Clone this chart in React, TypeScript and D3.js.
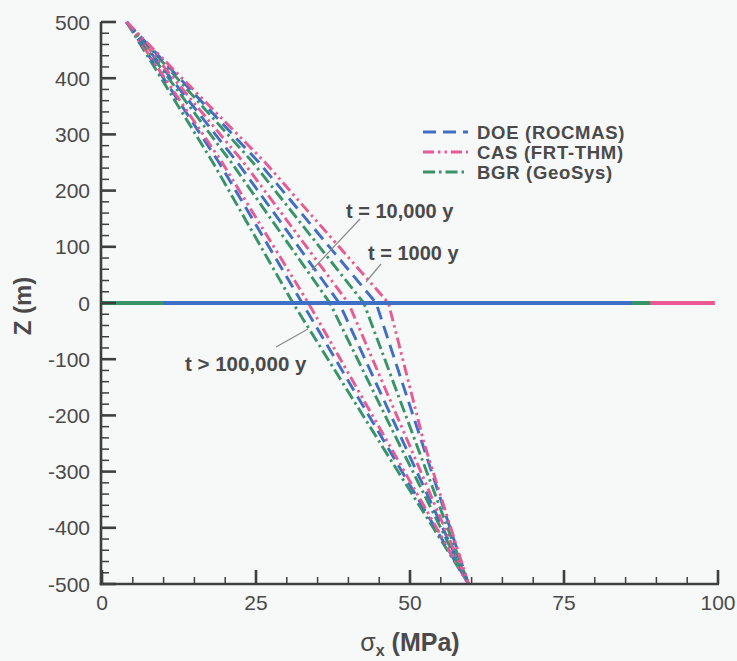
import React from "react";
import * as d3 from "d3";

// ---- data ----
const depthZ = [500, 250, 0, -250, -500];

const doe1000 = [4, 25.5, 44.5, 52, 59.5];
const cas1000 = [4, 26.5, 46.5, 52.3, 59.5];
const bgr1000 = [4, 24.5, 42.5, 51, 59.5];

const doe10000 = [4, 22, 38.5, 49, 59.5];
const cas10000 = [4, 23, 40, 49.8, 59.5];
const bgr10000 = [4, 21, 37, 48.2, 59.5];

const doe100000 = [4, 19, 32.5, 46, 59.5];
const cas100000 = [4, 19.5, 33.5, 46.5, 59.5];
const bgr100000 = [4, 18, 31, 45.2, 59.5];

// horizontal z = 0 lines: [start, end] in MPa
const casSurface = [0, 99.5];
const bgrSurface = [0, 89];
const doeSurface = [10, 86];

const xTicks = [0, 25, 50, 75, 100];
const yTicks = [-500, -400, -300, -200, -100, 0, 100, 200, 300, 400, 500];

const legendLabels = ["DOE (ROCMAS)", "CAS (FRT-THM)", "BGR (GeoSys)"];

const COLORS = { doe: "#3e6ec6", cas: "#ea5a92", bgr: "#389468" };
const DASH = { doe: "13,7", cas: "11,4,2.5,4,2.5,4", bgr: "12,4,2.5,4" };

const FONT = "'Liberation Sans', Arial, Helvetica, sans-serif";

export default function App() {
  const W = 737;
  const H = 661;
  const x = d3.scaleLinear().domain([0, 100]).range([102, 718]);
  const y = d3.scaleLinear().domain([-500, 500]).range([584, 22]);

  const line = d3
    .line<[number, number]>()
    .x((d) => x(d[0]))
    .y((d) => y(d[1]));

  const toPts = (vals: number[]) =>
    vals.map((v, i) => [v, depthZ[i]] as [number, number]);

  const curves = [
    { vals: bgr100000, k: "bgr" },
    { vals: doe100000, k: "doe" },
    { vals: cas100000, k: "cas" },
    { vals: bgr10000, k: "bgr" },
    { vals: doe10000, k: "doe" },
    { vals: cas10000, k: "cas" },
    { vals: bgr1000, k: "bgr" },
    { vals: doe1000, k: "doe" },
    { vals: cas1000, k: "cas" },
  ] as { vals: number[]; k: "doe" | "cas" | "bgr" }[];

  const surfaces = [
    { r: casSurface, k: "cas" },
    { r: bgrSurface, k: "bgr" },
    { r: doeSurface, k: "doe" },
  ] as { r: number[]; k: "doe" | "cas" | "bgr" }[];

  const yMinor = d3.range(-500, 501, 20).filter((v) => v % 100 !== 0);
  const xMinor = d3.range(0, 101, 5).filter((v) => v % 25 !== 0);

  const axisColor = "#3f3f3f";
  const textColor = "#4a4a4a";

  return (
    <div style={{ position: "absolute", left: 0, top: 0 }}>
      <svg width={W} height={H} style={{ display: "block" }}>
        <rect x={0} y={0} width={W} height={H} fill="#f7f8f8" />

        {/* curves */}
        {curves.map((c, i) => (
          <path
            key={i}
            d={line(toPts(c.vals)) || ""}
            fill="none"
            stroke={COLORS[c.k]}
            strokeWidth={2.9}
            strokeDasharray={DASH[c.k]}
          />
        ))}

        {/* z = 0 lines */}
        {surfaces.map((s, i) => (
          <line
            key={i}
            x1={x(s.r[0])}
            x2={x(s.r[1])}
            y1={y(0)}
            y2={y(0)}
            stroke={COLORS[s.k]}
            strokeWidth={3.8}
          />
        ))}

        {/* axes */}
        <line x1={x(0) - 1} x2={x(0) - 1} y1={y(500)} y2={y(-500) + 1.2} stroke={axisColor} strokeWidth={2.6} />
        <line x1={x(0) - 2.3} x2={x(100) + 1} y1={y(-500)} y2={y(-500)} stroke={axisColor} strokeWidth={2.6} />
        {yTicks.map((t) => (
          <g key={"yt" + t}>
            <line x1={x(0) - 1} x2={x(0) + 14} y1={y(t)} y2={y(t)} stroke={axisColor} strokeWidth={2.6} />
            <text
              x={90}
              y={y(t)}
              dy="0.36em"
              textAnchor="end"
              fontFamily={FONT}
              fontSize={21}
              fill={textColor}
            >
              {t}
            </text>
          </g>
        ))}
        {yMinor.map((t) => (
          <line key={"ym" + t} x1={x(0) - 1} x2={x(0) + 7} y1={y(t)} y2={y(t)} stroke={axisColor} strokeWidth={1.5} />
        ))}
        {xTicks.map((t) => (
          <g key={"xt" + t}>
            <line x1={x(t)} x2={x(t)} y1={y(-500)} y2={y(-500) - 14} stroke={axisColor} strokeWidth={2.6} />
            <text
              x={x(t)}
              y={610}
              textAnchor="middle"
              fontFamily={FONT}
              fontSize={21}
              fill={textColor}
            >
              {t}
            </text>
          </g>
        ))}
        {xMinor.map((t) => (
          <line key={"xm" + t} x1={x(t)} x2={x(t)} y1={y(-500)} y2={y(-500) - 7} stroke={axisColor} strokeWidth={1.5} />
        ))}

        {/* axis titles */}
        <text
          transform={`translate(31,306) rotate(-90)`}
          textAnchor="middle"
          fontFamily={FONT}
          fontSize={24}
          fontWeight="bold"
          fill={textColor}
        >
          Z (m)
        </text>
        <text x={410} y={651} textAnchor="middle" fontFamily={FONT} fontSize={25} fontWeight="bold" fill={textColor}>
          <tspan fontWeight="normal">σ</tspan>
          <tspan fontSize={16} dy={5}>x</tspan>
          <tspan dy={-5}> (MPa)</tspan>
        </text>

        {/* legend */}
        {legendLabels.map((lab, i) => {
          const k = (["doe", "cas", "bgr"] as const)[i];
          const ly = 132 + i * 20;
          return (
            <g key={lab}>
              <line x1={423} x2={468} y1={ly} y2={ly} stroke={COLORS[k]} strokeWidth={2.9} strokeDasharray={DASH[k]} />
              <text
                x={477}
                y={ly}
                dy="0.36em"
                fontFamily={FONT}
                fontSize={18.5}
                letterSpacing={0.7}
                fontWeight="bold"
                fill={textColor}
              >
                {lab}
              </text>
            </g>
          );
        })}

        {/* annotations */}
        <line x1={360} y1={219} x2={312} y2={270} stroke="#8a8a8a" strokeWidth={1.2} />
        <text x={346} y={218} fontFamily={FONT} fontSize={20} fontWeight="bold" fill={textColor}>
          t = 10,000 y
        </text>
        <line x1={381} y1={264} x2={366} y2={282} stroke="#8a8a8a" strokeWidth={1.2} />
        <text x={368} y={260} fontFamily={FONT} fontSize={20} fontWeight="bold" fill={textColor}>
          t = 1000 y
        </text>
        <line x1={276} y1={347} x2={308} y2={329} stroke="#8a8a8a" strokeWidth={1.2} />
        <text x={185} y={371} fontFamily={FONT} fontSize={20.5} fontWeight="bold" fill={textColor}>
          t &gt; 100,000 y
        </text>
      </svg>
    </div>
  );
}
